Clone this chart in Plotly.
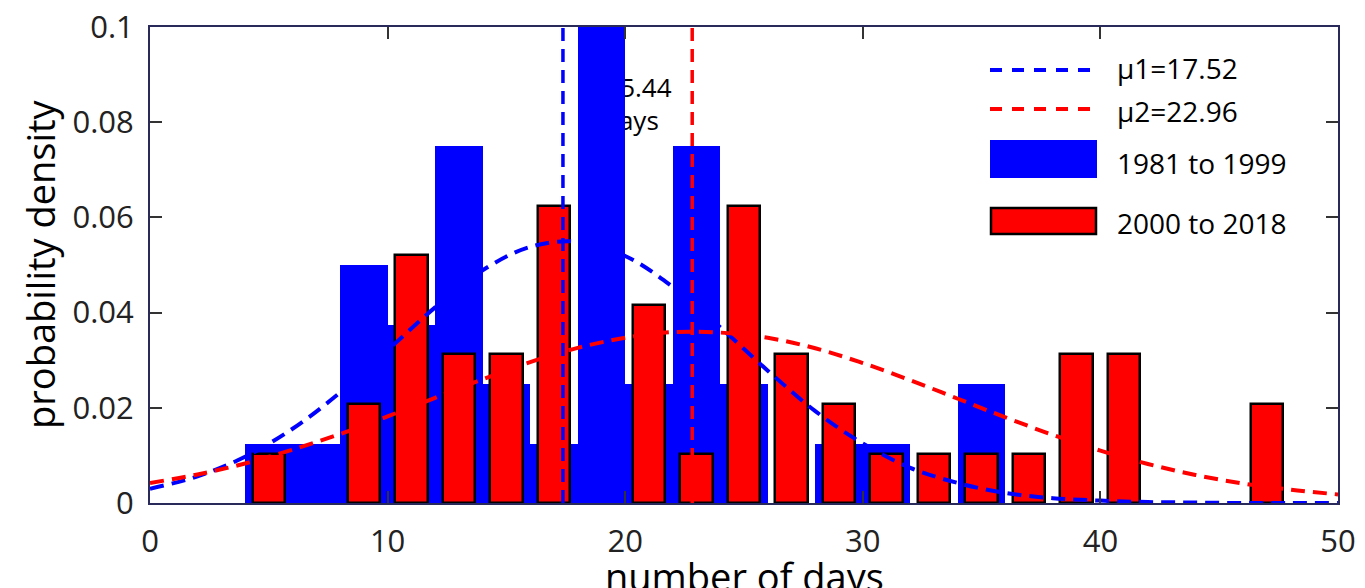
import plotly.graph_objects as go

# ---------------- data ----------------
blue_bin_left = [4, 6, 8, 10, 12, 14, 16, 18, 20, 22, 24, 26, 28, 30, 32, 34]
blue_density = [0.0125, 0.0125, 0.05, 0.0375, 0.075, 0.025, 0.0125, 0.1,
                0.025, 0.075, 0.025, 0.0, 0.0125, 0.0125, 0.0, 0.025]

red_center = [5, 9, 11, 13, 15, 17, 21, 23, 25, 27, 29, 31, 33, 35, 37, 39, 41, 47]
red_density = [0.0104, 0.0208, 0.0521, 0.0313, 0.0313, 0.0625, 0.0417, 0.0104,
               0.0625, 0.0313, 0.0208, 0.0104, 0.0104, 0.0104, 0.0104, 0.0313,
               0.0313, 0.0208]

curve_x = [0, 2, 4, 6, 8, 10, 12, 14, 16, 18, 20, 22, 24, 26, 28, 30, 32, 34,
           36, 38, 40, 42, 44, 46, 48, 50]
blue_fit = [0.0030, 0.0056, 0.0097, 0.0156, 0.0232, 0.0321, 0.0411, 0.0489,
            0.0538, 0.0549, 0.0519, 0.0454, 0.0369, 0.0278, 0.0193, 0.0125,
            0.0074, 0.0042, 0.0021, 0.0010, 0.0005, 0.0002, 0.0001, 0.0,
            0.0, 0.0]
red_fit = [0.0042, 0.0060, 0.0083, 0.0112, 0.0145, 0.0182, 0.0221, 0.0260,
           0.0296, 0.0326, 0.0347, 0.0359, 0.0358, 0.0347, 0.0325, 0.0294,
           0.0258, 0.0219, 0.0180, 0.0143, 0.0110, 0.0082, 0.0059, 0.0041,
           0.0028, 0.0018]

mean_line_x = [17.38, 22.82]
mean_labels = ["μ1=17.52", "μ2=22.96"]
series_labels = ["1981 to 1999", "2000 to 2018"]
diff_text = "Δ=5.44<br>days"
diff_pos = (20.24, 0.0832)

x_ticks = [0, 10, 20, 30, 40, 50]
y_ticks = [0, 0.02, 0.04, 0.06, 0.08, 0.1]
y_ticktext = ["0", "0.02", "0.04", "0.06", "0.08", "0.1"]

# ---------------- style ----------------
FONT = "Open Sans"
BLUE = "#0000ff"
RED = "#ff0000"
AXC = "#2a2a5a"

# the page body adds an 8px offset; work in page pixels
OFF = 8
W, H = 1365 - OFF, 588 - OFF
PX_L, PX_R, PX_T, PX_B = 150, 1338, 27, 503


def px(xp):
    return (xp - PX_L) / (PX_R - PX_L)


def py(yp):
    return (PX_B - yp) / (PX_B - PX_T)


fig = go.Figure()

# text drawn underneath the bars (base subplot)
fig.add_trace(go.Scatter(
    x=[diff_pos[0]], y=[diff_pos[1]], mode="text", text=[diff_text],
    textposition="middle center",
    textfont=dict(family=FONT, size=26, color="black"),
    showlegend=False, hoverinfo="skip", xaxis="x", yaxis="y"))

# bars on the overlay subplot
fig.add_trace(go.Bar(
    x=blue_bin_left, y=blue_density, width=2, offset=0,
    marker=dict(color=BLUE, line=dict(width=0)),
    showlegend=False, xaxis="x2", yaxis="y2"))
fig.add_trace(go.Bar(
    x=red_center, y=red_density, width=1.36, offset=-0.68,
    marker=dict(color=RED, line=dict(color="black", width=2.5)),
    showlegend=False, xaxis="x2", yaxis="y2"))

# fitted curves
fig.add_trace(go.Scatter(
    x=curve_x, y=blue_fit, mode="lines",
    line=dict(color=BLUE, width=4, dash="14px,8px", shape="spline"),
    showlegend=False, xaxis="x2", yaxis="y2"))
fig.add_trace(go.Scatter(
    x=curve_x, y=red_fit, mode="lines",
    line=dict(color=RED, width=4, dash="14px,8px", shape="spline"),
    showlegend=False, xaxis="x2", yaxis="y2"))

# mean lines
for xv, col in zip(mean_line_x, [BLUE, RED]):
    fig.add_trace(go.Scatter(
        x=[xv, xv], y=[y_ticks[0], y_ticks[-1]], mode="lines",
        line=dict(color=col, width=3.5, dash="13px,8px"),
        showlegend=False, xaxis="x2", yaxis="y2", cliponaxis=False))

axis_common = dict(showline=True, linecolor=AXC, linewidth=2, mirror="ticks",
                   ticks="inside", ticklen=12, tickwidth=1.5, tickcolor="#333333",
                   showgrid=False, zeroline=False, automargin=False,
                   ticklabeloverflow="allow",
                   tickfont=dict(family=FONT, size=31, color="#222222"))

fig.update_layout(
    width=W, height=H,
    margin=dict(l=PX_L - OFF, r=1365 - PX_R, t=PX_T - OFF, b=588 - PX_B),
    paper_bgcolor="white", plot_bgcolor="white",
    barmode="overlay", bargap=0,
    showlegend=False,
    xaxis=dict(range=[0, 50], tickvals=x_ticks, ticklabelstandoff=10, **axis_common),
    yaxis=dict(range=[0, 0.1], tickvals=y_ticks, ticktext=y_ticktext, ticklabelstandoff=8, **axis_common),
    xaxis2=dict(range=[0, 50], overlaying="x", visible=False, anchor="y2"),
    yaxis2=dict(range=[0, 0.1], overlaying="y", visible=False, anchor="x2"),
)

# axis titles
fig.add_annotation(xref="paper", yref="paper", x=0.5, y=py(576), text="number of days",
                   showarrow=False, xanchor="center", yanchor="middle",
                   font=dict(family=FONT, size=38, color="black"))
fig.add_annotation(xref="paper", yref="paper", x=px(40), y=py(264), text="probability density",
                   showarrow=False, xanchor="center", yanchor="middle", textangle=-90,
                   font=dict(family=FONT, size=38, color="black"))

# custom legend
leg_x0, leg_x1 = px(990), px(1095)
fig.add_shape(type="line", xref="paper", yref="paper", x0=leg_x0, x1=leg_x1, y0=py(70), y1=py(70),
              line=dict(color=BLUE, width=4, dash="12px,10px"))
fig.add_shape(type="line", xref="paper", yref="paper", x0=leg_x0, x1=leg_x1, y0=py(109), y1=py(109),
              line=dict(color=RED, width=4, dash="12px,10px"))
fig.add_shape(type="rect", xref="paper", yref="paper", x0=leg_x0, x1=px(1097), y0=py(178), y1=py(140),
              fillcolor=BLUE, line=dict(width=0))
fig.add_shape(type="rect", xref="paper", yref="paper", x0=px(991), x1=px(1096), y0=py(234), y1=py(208),
              fillcolor=RED, line=dict(color="black", width=2.5))
for txt, yy in zip(mean_labels + series_labels, [68, 111, 163, 223]):
    fig.add_annotation(xref="paper", yref="paper", x=px(1115), y=py(yy), text=txt,
                       showarrow=False, xanchor="left", yanchor="middle",
                       font=dict(family=FONT, size=28, color="black"))

fig.write_html("out.html")
